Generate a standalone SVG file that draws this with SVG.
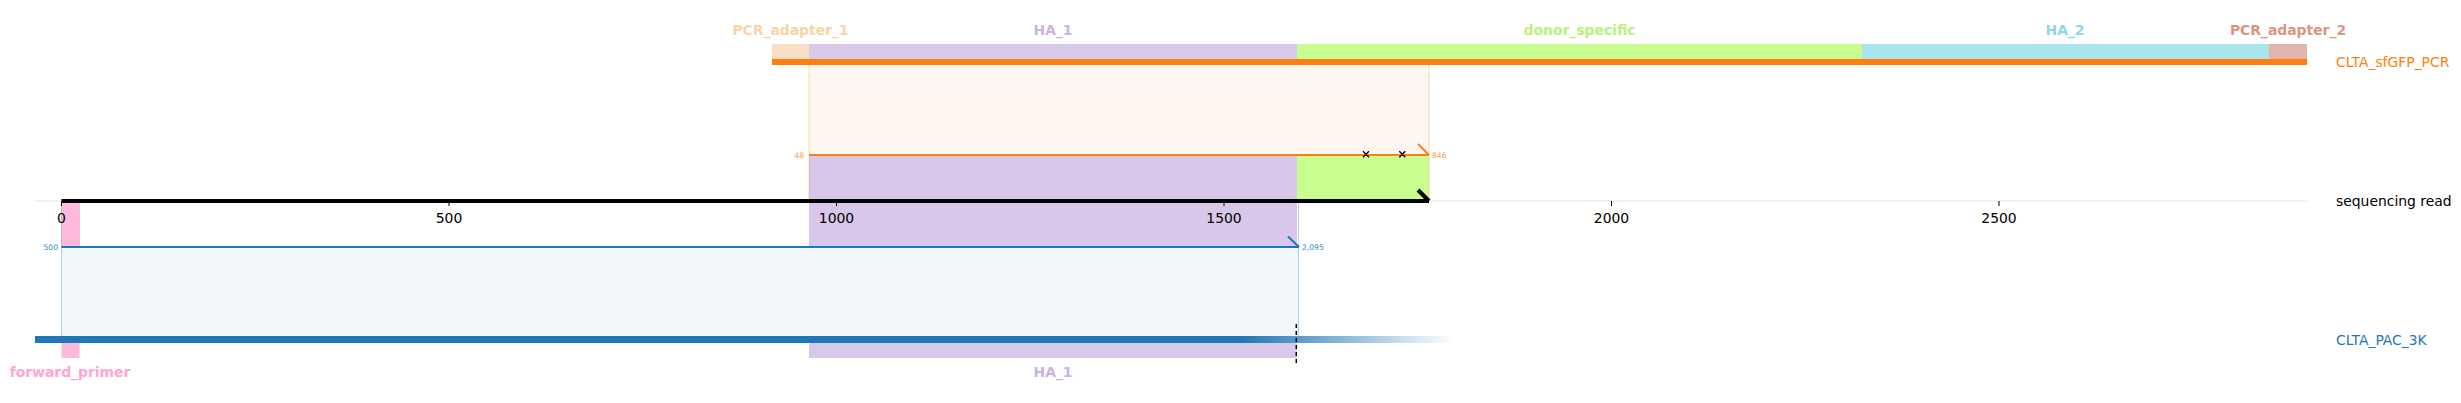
<svg xmlns="http://www.w3.org/2000/svg" width="2461" height="403" viewBox="0 0 2461 403">
<defs>
<style>
text{font-family:"DejaVu Sans","Liberation Sans",sans-serif}
.lbl{font-size:13.9px;font-weight:bold;text-anchor:middle}
.tick{font-size:13.9px;fill:#000;text-anchor:middle}
.side{font-size:13.9px}
.small{font-size:7.6px}
.tk{stroke:#000;stroke-width:1}
</style>
<linearGradient id="fade" x1="0" y1="0" x2="1" y2="0">
<stop offset="0" stop-color="#1f77b4" stop-opacity="1"/>
<stop offset="1" stop-color="#1f77b4" stop-opacity="0"/>
</linearGradient>
</defs>
<rect width="2461" height="403" fill="#fff"/>

<g id="connectors">
<rect x="809" y="65" width="620" height="90" fill="#fef6f0"/>
<rect x="61.5" y="247" width="1237" height="89" fill="#f1f6fa"/>
<rect x="809" y="155" width="488" height="92" fill="#d8c7ea"/>
<rect x="1297" y="155" width="132" height="46" fill="#c8fd8f"/>
<rect x="61.5" y="201" width="18.5" height="46" fill="#ffb9dc"/>
<line x1="809" y1="65" x2="809" y2="201" stroke="#ff7f0e" stroke-opacity="0.3" stroke-width="1"/>
<line x1="1429" y1="65" x2="1429" y2="201" stroke="#ff7f0e" stroke-opacity="0.3" stroke-width="1"/>
<line x1="61.5" y1="201" x2="61.5" y2="336" stroke="#1f77b4" stroke-opacity="0.35" stroke-width="1"/>
<line x1="1298.5" y1="201" x2="1298.5" y2="336" stroke="#1f77b4" stroke-opacity="0.35" stroke-width="1"/>
</g>

<g id="axis">
<line x1="35" y1="201" x2="2307" y2="201" stroke="#e2e2e2" stroke-width="1.2"/>
<line class="tk" x1="61.5" y1="201" x2="61.5" y2="206"/>
<line class="tk" x1="449" y1="201" x2="449" y2="206"/>
<line class="tk" x1="836.5" y1="201" x2="836.5" y2="206"/>
<line class="tk" x1="1224" y1="201" x2="1224" y2="206"/>
<line class="tk" x1="1611.5" y1="201" x2="1611.5" y2="206"/>
<line class="tk" x1="1999" y1="201" x2="1999" y2="206"/>
<text class="tick" x="61.5" y="223">0</text>
<text class="tick" x="449" y="223">500</text>
<text class="tick" x="836.5" y="223">1000</text>
<text class="tick" x="1224" y="223">1500</text>
<text class="tick" x="1611.5" y="223">2000</text>
<text class="tick" x="1999" y="223">2500</text>
</g>

<g id="sequencing_read">
<line x1="61.5" y1="201" x2="1429" y2="201" stroke="#000" stroke-width="4"/>
<line x1="1418" y1="190" x2="1429" y2="201" stroke="#000" stroke-width="4"/>
<text class="side" x="2336" y="206" fill="#000">sequencing read</text>
</g>

<g id="CLTA_sfGFP_PCR">
<rect x="772" y="44" width="37" height="15" fill="#f8dfc3"/>
<rect x="809" y="44" width="488" height="15" fill="#d8c8ea"/>
<rect x="1297" y="44" width="565" height="15" fill="#c8fd8f"/>
<rect x="1862" y="44" width="407" height="15" fill="#a8e5ee"/>
<rect x="2269" y="44" width="38" height="15" fill="#e1b5ab"/>
<rect x="772" y="59" width="1535" height="6" fill="#ff7f0e"/>
<text class="lbl" x="790.5" y="35" fill="#f9d3a5">PCR_adapter_1</text>
<text class="lbl" x="1053" y="35" fill="#c8b2e6">HA_1</text>
<text class="lbl" x="1579.5" y="35" fill="#b9f27a">donor_specific</text>
<text class="lbl" x="2065" y="35" fill="#8dd6e8">HA_2</text>
<text class="lbl" x="2288" y="35" fill="#d99585">PCR_adapter_2</text>
<text class="side" x="2336" y="67" fill="#ff7f0e">CLTA_sfGFP_PCR</text>
</g>

<g id="CLTA_sfGFP_PCR_alignment">
<line x1="809" y1="155" x2="1429" y2="155" stroke="#ff7f0e" stroke-width="2"/>
<line x1="1418" y1="144" x2="1429" y2="155" stroke="#ff7f0e" stroke-width="2"/>
<text class="small" x="804" y="158" fill="#ff9a40" text-anchor="end">48</text>
<text class="small" x="1432" y="158" fill="#ff9a40">846</text>
<path d="M1363 151.3l6 6M1369 151.3l-6 6M1399.3 151.3l6 6M1405.3 151.3l-6 6" stroke="#000" stroke-width="1.3"/>
</g>

<g id="CLTA_PAC_3K_alignment">
<line x1="61.5" y1="247" x2="1299" y2="247" stroke="#1f77b4" stroke-width="2"/>
<line x1="1288" y1="236.5" x2="1299" y2="247" stroke="#1f77b4" stroke-width="2"/>
<text class="small" x="58" y="250" fill="#3a8bc4" text-anchor="end">500</text>
<text class="small" x="1302" y="250" fill="#3a8bc4">2,095</text>
</g>

<g id="CLTA_PAC_3K">
<rect x="35" y="336" width="1207" height="7" fill="#1f77b4"/>
<rect x="1241" y="336" width="213" height="7" fill="url(#fade)"/>
<rect x="61.5" y="343" width="18" height="15" fill="#ffb9dc"/>
<rect x="809" y="343" width="488" height="15" fill="#d8c8ea"/>
<line x1="1296.3" y1="324" x2="1296.3" y2="363" stroke="#000" stroke-width="1.5" stroke-dasharray="4,3"/>
<text class="lbl" x="70" y="377" fill="#ffa6d4">forward_primer</text>
<text class="lbl" x="1053" y="377" fill="#c8b2e6">HA_1</text>
<text class="side" x="2336" y="345" fill="#1f77b4">CLTA_PAC_3K</text>
</g>
</svg>
